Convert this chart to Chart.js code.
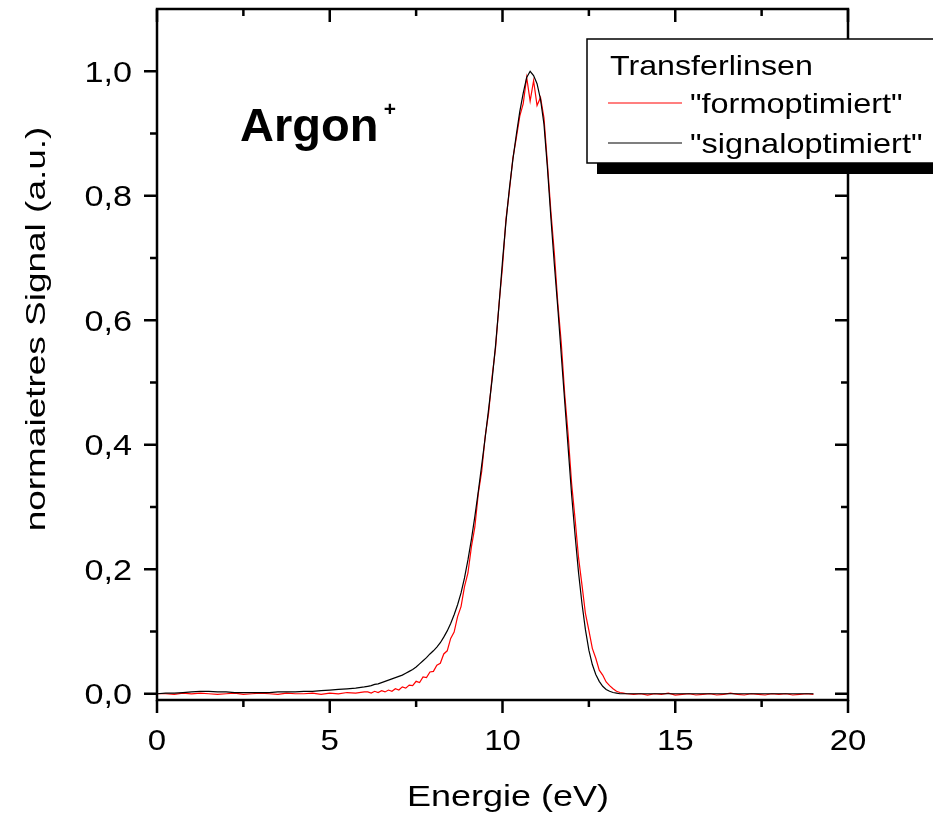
<!DOCTYPE html>
<html>
<head>
<meta charset="utf-8">
<script src="https://cdn.jsdelivr.net/npm/chart.js@4.4.1/dist/chart.umd.min.js"></script>
<style>
  html, body { margin: 0; padding: 0; background: #fff; }
  canvas { display: block; }
</style>
</head>
<body>
<canvas id="spektrum" width="933" height="816"></canvas>
<script>
// Argon+ Energiespektrum - zwei Einstellungen der Transferlinsen

// ========== DATEN ==========
const energie = [
    0, 0.25, 0.5, 0.75, 1, 1.25, 1.5, 1.75, 2, 2.25,
    2.5, 2.75, 3, 3.25, 3.5, 3.75, 4, 4.25, 4.5, 4.75,
    5, 5.25, 5.5, 5.75, 6,
    6.1, 6.2, 6.3, 6.4, 6.5, 6.6, 6.7, 6.8, 6.9, 7.0,
    7.1, 7.2, 7.3, 7.4, 7.5, 7.6, 7.7, 7.8, 7.9, 8.0,
    8.1, 8.2, 8.3, 8.4, 8.5, 8.6, 8.7, 8.8, 8.9, 9.0,
    9.1, 9.2, 9.3, 9.4, 9.5, 9.6, 9.7, 9.8, 9.9, 10.0,
    10.1, 10.2, 10.3, 10.4, 10.5, 10.6, 10.7, 10.8, 10.9, 11.0,
    11.1, 11.2, 11.3, 11.4, 11.5, 11.6, 11.7, 11.8, 11.9, 12.0,
    12.1, 12.2, 12.3, 12.4, 12.5, 12.6, 12.7, 12.8, 12.9, 13.0,
    13.1, 13.2, 13.3, 13.4, 13.5, 13.6,
    13.8, 14, 14.2, 14.4, 14.6, 14.8, 15, 15.2, 15.4, 15.6,
    15.8, 16, 16.2, 16.4, 16.6, 16.8, 17, 17.2, 17.4, 17.6,
    17.8, 18, 18.2, 18.4, 18.6, 18.8, 19
];

// rauschiger Verlauf
const formoptimiert = [
    0.000, 0.000, -0.001, 0.001, 0.000, 0.001, 0.000, -0.001, 0.000, 0.001,
    -0.001, 0.000, 0.001, 0.000, -0.001, 0.001, 0.000, 0.000, 0.001, -0.001,
    0.001, 0.000, 0.002, 0.001, 0.003,
    0.003, 0.001, 0.004, 0.002, 0.005, 0.003, 0.006, 0.004, 0.008, 0.006,
    0.011, 0.009, 0.014, 0.013, 0.020, 0.018, 0.027, 0.026, 0.035, 0.036,
    0.046, 0.049, 0.064, 0.069, 0.089, 0.099, 0.124, 0.140, 0.172, 0.194,
    0.236, 0.268, 0.322, 0.358, 0.414, 0.452, 0.510, 0.556, 0.626, 0.686,
    0.762, 0.808, 0.860, 0.893, 0.928, 0.948, 0.990, 0.952, 0.985, 0.945,
    0.958, 0.925, 0.852, 0.775, 0.708, 0.628, 0.564, 0.482, 0.416, 0.338,
    0.281, 0.219, 0.175, 0.129, 0.102, 0.073, 0.057, 0.038, 0.030, 0.019,
    0.013, 0.008, 0.004, 0.002, 0.001, 0.000,
    -0.001, 0.000, -0.002, 0.000, -0.001, 0.001, -0.002, -0.001, 0.000, -0.002,
    -0.001, 0.000, -0.002, -0.001, 0.001, -0.001, -0.002, 0.000, -0.001, -0.002,
    0.000, -0.001, 0.000, -0.002, -0.001, 0.000, -0.001
];

const signaloptimiert = [
    0.000, 0.001, 0.001, 0.002, 0.003, 0.004, 0.004, 0.003, 0.003, 0.002,
    0.002, 0.002, 0.002, 0.002, 0.003, 0.003, 0.003, 0.004, 0.004, 0.005,
    0.006, 0.007, 0.008, 0.009, 0.011,
    0.012, 0.013, 0.015, 0.016, 0.018, 0.020, 0.022, 0.024, 0.026, 0.028,
    0.030, 0.033, 0.036, 0.039, 0.043, 0.048, 0.053, 0.058, 0.064, 0.069,
    0.075, 0.082, 0.091, 0.101, 0.113, 0.127, 0.143, 0.162, 0.186, 0.215,
    0.248, 0.285, 0.325, 0.368, 0.412, 0.458, 0.505, 0.560, 0.625, 0.695,
    0.758, 0.812, 0.858, 0.898, 0.935, 0.965, 0.990, 1.000, 0.993, 0.980,
    0.955, 0.915, 0.845, 0.765, 0.690, 0.620, 0.545, 0.470, 0.395, 0.320,
    0.255, 0.195, 0.145, 0.103, 0.070, 0.047, 0.031, 0.020, 0.012, 0.007,
    0.004, 0.002, 0.001, 0.000, 0.000, 0.000,
    0, 0, 0, 0, 0, 0, 0, 0, 0, 0,
    0, 0, 0, 0, 0, 0, 0, 0, 0, 0,
    0, 0, 0, 0, 0, 0, 0
];

// Achsenbeschriftung
const xTicks = [0, 5, 10, 15, 20];
const xMinor = [2.5, 7.5, 12.5, 17.5];
const yTicks = [0, 0.2, 0.4, 0.6, 0.8, 1.0];
const yMinor = [0.1, 0.3, 0.5, 0.7, 0.9];

const FONT = '"Liberation Sans", Arial, sans-serif';

// Text mit horizontaler Streckung zeichnen
function wideText(ctx, str, x, y, size, sx, align, rot) {
    ctx.save();
    ctx.translate(x, y);
    if (rot) ctx.rotate(rot);
    ctx.scale(sx, 1);
    ctx.font = size + 'px ' + FONT;
    ctx.textAlign = align;
    ctx.textBaseline = 'alphabetic';
    ctx.fillStyle = '#000';
    ctx.fillText(str, 0, 0);
    ctx.restore();
}

// Rahmen, Ticks, Beschriftungen und Legende im Origin-Stil
const originFrame = {
    id: 'originFrame',
    afterDraw(chart) {
        const ctx = chart.ctx;
        const xs = chart.scales.x;
        const ys = chart.scales.y;
        const a = chart.chartArea;

        ctx.save();
        ctx.strokeStyle = '#000';
        ctx.lineWidth = 2.5;
        ctx.lineCap = 'butt';
        ctx.strokeRect(a.left, a.top, a.right - a.left, a.bottom - a.top);

        const major = 13, minor = 7;
        ctx.beginPath();
        xTicks.forEach(v => {
            const px = xs.getPixelForValue(v);
            ctx.moveTo(px, a.bottom); ctx.lineTo(px, a.bottom + major);
            ctx.moveTo(px, a.top); ctx.lineTo(px, a.top + major);
        });
        xMinor.forEach(v => {
            const px = xs.getPixelForValue(v);
            ctx.moveTo(px, a.bottom); ctx.lineTo(px, a.bottom + minor);
            ctx.moveTo(px, a.top); ctx.lineTo(px, a.top + minor);
        });
        yTicks.forEach(v => {
            const py = ys.getPixelForValue(v);
            ctx.moveTo(a.left, py); ctx.lineTo(a.left - major, py);
            ctx.moveTo(a.right, py); ctx.lineTo(a.right - major, py);
        });
        yMinor.forEach(v => {
            const py = ys.getPixelForValue(v);
            ctx.moveTo(a.left, py); ctx.lineTo(a.left - minor, py);
            ctx.moveTo(a.right, py); ctx.lineTo(a.right - minor, py);
        });
        ctx.stroke();

        // Tick-Beschriftungen
        xTicks.forEach(v => {
            wideText(ctx, String(v), xs.getPixelForValue(v), 750, 30, 1.1, 'center');
        });
        yTicks.forEach(v => {
            wideText(ctx, v.toFixed(1).replace('.', ','), 132, ys.getPixelForValue(v) + 10.5, 29, 1.18, 'right');
        });

        // Achsentitel
        wideText(ctx, 'Energie (eV)', 508, 806, 30, 1.2, 'center');
        wideText(ctx, 'normaietres Signal (a.u.)', 45, 329, 28, 1.32, 'center', -Math.PI / 2);

        // Argon+
        ctx.fillStyle = '#000';
        ctx.font = 'bold 47px ' + FONT;
        ctx.textAlign = 'left';
        ctx.textBaseline = 'alphabetic';
        ctx.fillText('Argon', 240, 141);
        ctx.font = 'bold 21px ' + FONT;
        ctx.textAlign = 'center';
        ctx.fillText('+', 390, 116);

        // Legende mit Schatten
        ctx.fillStyle = '#000';
        ctx.fillRect(597, 49, 360, 125);
        ctx.fillStyle = '#fff';
        ctx.fillRect(587, 39, 360, 124);
        ctx.lineWidth = 1.5;
        ctx.strokeRect(587, 39, 360, 124);

        wideText(ctx, 'Transferlinsen', 610, 75, 28, 1.15, 'left');
        chart.data.datasets.forEach((ds, i) => {
            const ly = 103 + i * 40;
            ctx.strokeStyle = ds.borderColor;
            ctx.lineWidth = 1.2;
            ctx.beginPath();
            ctx.moveTo(608, ly);
            ctx.lineTo(682, ly);
            ctx.stroke();
            wideText(ctx, '"' + ds.label + '"', 690, ly + 10, 28, 1.16, 'left');
        });
        ctx.restore();
    }
};

function punkte(werte) {
    return energie.map((e, i) => ({ x: e, y: werte[i] }));
}

new Chart(document.getElementById('spektrum'), {
    type: 'line',
    data: {
        datasets: [
            {
                label: 'formoptimiert',
                data: punkte(formoptimiert),
                borderColor: '#FF0000',
                borderWidth: 1.2,
                pointRadius: 0,
                tension: 0,
                order: 2
            },
            {
                label: 'signaloptimiert',
                data: punkte(signaloptimiert),
                borderColor: '#000000',
                borderWidth: 1.2,
                pointRadius: 0,
                tension: 0,
                order: 1
            }
        ]
    },
    options: {
        responsive: false,
        animation: false,
        devicePixelRatio: 1,
        layout: { padding: { left: 0, top: 9, right: 85, bottom: 0 } },
        plugins: {
            legend: { display: false },
            tooltip: { enabled: false }
        },
        scales: {
            x: {
                type: 'linear',
                min: 0,
                max: 20,
                ticks: { display: false },
                grid: { display: false },
                border: { display: false },
                afterFit(scale) { scale.height = 116; }
            },
            y: {
                type: 'linear',
                min: -0.01,
                max: 1.1,
                ticks: { display: false },
                grid: { display: false },
                border: { display: false },
                afterFit(scale) { scale.width = 157; }
            }
        }
    },
    plugins: [originFrame]
});
</script>
</body>
</html>
